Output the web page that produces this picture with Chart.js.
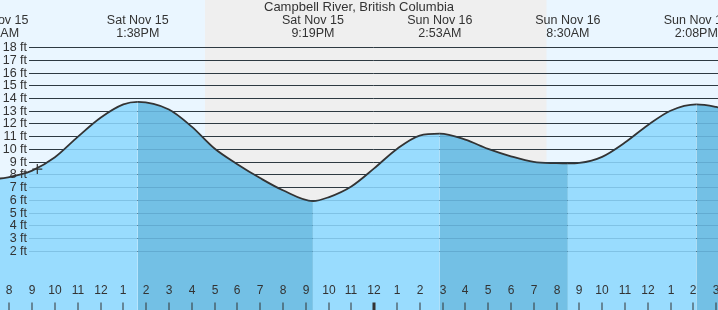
<!DOCTYPE html>
<html>
<head>
<meta charset="utf-8">
<title>Campbell River tides</title>
<script src="https://cdn.jsdelivr.net/npm/chart.js@4.4.1/dist/chart.umd.min.js"></script>
<style>
  html, body { margin: 0; padding: 0; background: #fff; }
  canvas { display: block; }
</style>
</head>
<body>
<canvas id="tideChart" width="718" height="310"></canvas>
<script>
// hours counted from Sat Nov 15 00:00
const tideHours = [6.5, 7.483, 8.5, 9, 10, 11, 12, 13, 13.633, 15, 16, 17, 18, 19, 20, 21.317,
  22, 23, 24, 25, 26, 26.883, 28, 29, 30, 31, 32, 32.5, 33, 34, 35, 36, 37, 38.133, 39, 40];
const tideFeet = [7.75, 7.67, 8.0, 8.3, 9.35, 10.95, 12.45, 13.5, 13.7, 13.1, 11.75, 10.03, 8.8, 7.71, 6.75, 5.9,
  6.2, 7.05, 8.47, 10.0, 11.05, 11.2, 10.73, 10.0, 9.42, 8.98, 8.88, 8.86, 8.9, 9.38, 10.5, 11.86, 13.0, 13.5, 13.3, 12.85];

const extremeHours = [7.483, 13.633, 21.317, 26.883, 32.5, 38.133];
const extremeDays = ['Sat Nov 15', 'Sat Nov 15', 'Sat Nov 15', 'Sun Nov 16', 'Sun Nov 16', 'Sun Nov 16'];
const extremeTimes = ['7:29AM', '1:38PM', '9:19PM', '2:53AM', '8:30AM', '2:08PM'];

const nightStart = 16.58;  // sunset Sat
const nightEnd = 31.56;    // sunrise Sun

const nowHour = [9.227];
const nowFeet = [8.42];

const footTicks = [2, 3, 4, 5, 6, 7, 8, 9, 10, 11, 12, 13, 14, 15, 16, 17, 18];
const hourTicks = [];
for (let h = 8; h <= 39; h++) hourTicks.push(h);

const titleText = 'Campbell River, British Columbia';

const FONT = '"Liberation Sans", Arial, sans-serif';
const INK = '#333';

const decorations = {
  id: 'decorations',
  beforeDraw(chart) {
    const {ctx, chartArea: a, scales: {x}} = chart;
    ctx.save();
    ctx.fillStyle = '#eaf6ff';
    ctx.fillRect(0, 0, chart.width, chart.height);
    const x0 = x.getPixelForValue(nightStart);
    const x1 = x.getPixelForValue(nightEnd);
    ctx.fillStyle = '#efefef';
    ctx.fillRect(x0, a.top, x1 - x0, a.bottom - a.top);
    ctx.restore();
  },
  beforeDatasetsDraw(chart) {
    drawFootLines(chart, INK);
  },
  afterDatasetsDraw(chart) {
    drawFootLines(chart, 'rgba(30, 90, 130, 0.2)');
    const {ctx, scales: {x, y}} = chart;
    ctx.save();
    ctx.fillStyle = INK;

    // foot labels
    ctx.font = '12.5px ' + FONT;
    ctx.textAlign = 'right';
    ctx.textBaseline = 'middle';
    footTicks.forEach(v => ctx.fillText(v + ' ft', 27, y.getPixelForValue(v) + 0.5));

    // title and tide extremes
    ctx.textAlign = 'center';
    ctx.textBaseline = 'alphabetic';
    ctx.font = '13px ' + FONT;
    ctx.fillText(titleText, chart.width / 2, 11);
    ctx.font = '12.5px ' + FONT;
    extremeHours.forEach((h, i) => {
      const px = x.getPixelForValue(h);
      ctx.fillText(extremeDays[i], px, 24);
      ctx.fillText(extremeTimes[i], px, 36.5);
    });

    // hour ticks along the bottom
    ctx.font = '12px ' + FONT;
    hourTicks.forEach(h => {
      const px = Math.round(x.getPixelForValue(h));
      const label = (h % 12) || 12;
      ctx.fillText(String(label), px, 294);
      const midnight = h % 24 === 0;
      ctx.fillRect(midnight ? px - 1.5 : px - 0.5, 302.5, midnight ? 3 : 1, 8);
    });
    ctx.restore();
  }
};

function drawFootLines(chart, color) {
  const {ctx, chartArea: a, scales: {y}} = chart;
  ctx.save();
  ctx.strokeStyle = color;
  ctx.lineWidth = 1;
  footTicks.forEach(v => {
    const py = Math.round(y.getPixelForValue(v)) + 0.5;
    ctx.beginPath();
    ctx.moveTo(29, py);
    ctx.lineTo(a.right, py);
    ctx.stroke();
  });
  ctx.restore();
}

const risingFill = '#99dcfe';
const fallingFill = '#73c0e5';

new Chart(document.getElementById('tideChart'), {
  type: 'line',
  data: {
    datasets: [
      {
        label: 'now',
        data: nowHour.map((h, i) => ({x: h, y: nowFeet[i]})),
        showLine: false,
        pointStyle: 'cross',
        pointRadius: 5,
        borderColor: INK,
        borderWidth: 1.2,
        fill: false
      },
      {
        label: 'tide',
        data: tideHours.map((h, i) => ({x: h, y: tideFeet[i]})),
        borderColor: INK,
        borderWidth: 1.8,
        pointRadius: 0,
        cubicInterpolationMode: 'monotone',
        fill: 'start',
        backgroundColor: risingFill,
        segment: {
          backgroundColor: c => c.p1.parsed.y < c.p0.parsed.y ? fallingFill : risingFill
        }
      }
    ]
  },
  options: {
    responsive: false,
    animation: false,
    events: [],
    layout: { padding: 0, autoPadding: false },
    plugins: {
      legend: { display: false },
      tooltip: { enabled: false },
      title: { display: false }
    },
    scales: {
      x: { type: 'linear', min: 7.5908, max: 39.0834, display: false },
      y: { type: 'linear', min: -2.655, max: 21.70, display: false }
    }
  },
  plugins: [decorations]
});
</script>
</body>
</html>
